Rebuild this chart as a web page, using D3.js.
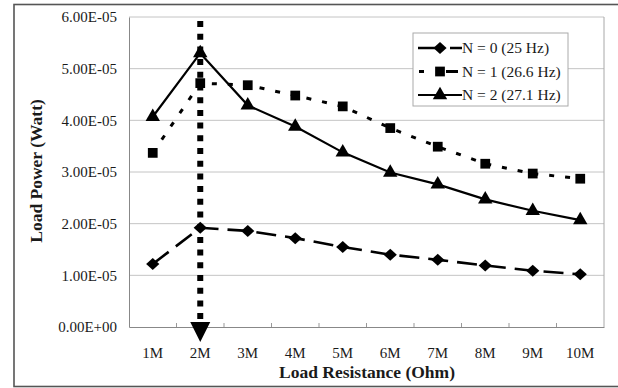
<!DOCTYPE html>
<html><head><meta charset="utf-8">
<script src="https://cdn.jsdelivr.net/npm/d3@7"></script>
<style>html,body{margin:0;padding:0;background:#fff;}svg{display:block;}</style>
</head><body>
<svg id="c" width="618" height="388"></svg>
<script>
const categories = ["1M","2M","3M","4M","5M","6M","7M","8M","9M","10M"];
const n0 = [1.22e-5,1.92e-5,1.86e-5,1.72e-5,1.55e-5,1.40e-5,1.30e-5,1.19e-5,1.09e-5,1.02e-5];
const n1 = [3.37e-5,4.72e-5,4.68e-5,4.48e-5,4.27e-5,3.85e-5,3.49e-5,3.16e-5,2.97e-5,2.87e-5];
const n2 = [4.07e-5,5.30e-5,4.29e-5,3.88e-5,3.38e-5,2.99e-5,2.76e-5,2.47e-5,2.25e-5,2.07e-5];
const seriesNames = ["N = 0 (25 Hz)","N = 1 (26.6 Hz)","N = 2 (27.1 Hz)"];
const yTicks = [0,1e-5,2e-5,3e-5,4e-5,5e-5,6e-5];
const markCategory = "2M";

const svg = d3.select("#c");
const font = "'Times New Roman','Liberation Serif',Times,serif";
const L=129, R=604, T=17, B=327;

// outer frame
svg.append("rect").attr("x",14).attr("y",4.5).attr("width",620).attr("height",382)
  .attr("fill","none").attr("stroke","#555").attr("stroke-width",1.6);

const x = d3.scaleBand().domain(categories).range([L,R]);
const y = d3.scaleLinear().domain([0,6e-5]).range([B,T]);
const cx = d => x(d)+x.bandwidth()/2;

// grid
svg.append("g").selectAll("line").data(yTicks.slice(1)).join("line")
  .attr("x1",L).attr("x2",R).attr("y1",d=>y(d)).attr("y2",d=>y(d))
  .attr("stroke","#c4c4c4").attr("stroke-width",1);
svg.append("line").attr("x1",R).attr("x2",R).attr("y1",T).attr("y2",B).attr("stroke","#a8a8a8");

// axes
const yAxis = d3.axisLeft(y).tickValues(yTicks).tickSize(0).tickPadding(12)
  .tickFormat(d => d===0 ? "0.00E+00" : (d/1e-5).toFixed(2)+"E-05");
const gy = svg.append("g").attr("transform",`translate(${L},0)`).call(yAxis);
gy.select(".domain").attr("stroke","#888");
gy.selectAll("text").attr("font-family",font).attr("font-size",15).attr("fill","#1a1a1a");

const xAxis = d3.axisBottom(x).tickSize(0).tickPadding(20);
const gx = svg.append("g").attr("transform",`translate(0,${B})`).call(xAxis);
gx.select(".domain").attr("stroke","#888");
gx.selectAll("text").attr("font-family",font).attr("font-size",15).attr("fill","#1a1a1a");
svg.append("g").selectAll("line").data(categories.slice(1)).join("line")
  .attr("x1",d=>x(d)).attr("x2",d=>x(d)).attr("y1",B).attr("y2",B-4).attr("stroke","#999");

// titles
svg.append("text").attr("x",367).attr("y",378).attr("text-anchor","middle")
  .attr("font-family",font).attr("font-weight","bold").attr("font-size",17.5).attr("fill","#1a1a1a")
  .text("Load Resistance (Ohm)");
svg.append("text").attr("transform","translate(42,171) rotate(-90)").attr("text-anchor","middle")
  .attr("font-family",font).attr("font-weight","bold").attr("font-size",17.5).attr("fill","#1a1a1a")
  .text("Load Power (Watt)");

// vertical marker line
const mx = cx(markCategory);
svg.append("line").attr("x1",mx).attr("x2",mx).attr("y1",y(6e-5)+4).attr("y2",B-4)
  .attr("stroke","#000").attr("stroke-width",6).attr("stroke-dasharray","6,6.7");
svg.append("path").attr("d",`M${mx-10},${B-5}L${mx+10},${B-5}L${mx},${B+15}Z`).attr("fill","#000");

// wide diamond symbol
const wideDiamond = { draw(ctx, size){ const r = Math.sqrt(size/2); ctx.moveTo(0,-r); ctx.lineTo(r*1.1,0); ctx.lineTo(0,r); ctx.lineTo(-r*1.1,0); ctx.closePath(); } };

const styles = [
  {data:n0, dash:"20,9", w:2.6, sym:wideDiamond, size:72},
  {data:n1, dash:"5,11", w:3, sym:d3.symbolSquare, size:95},
  {data:n2, dash:null, w:2.2, sym:d3.symbolTriangle, size:90}
];
const line = d3.line().x((d,i)=>cx(categories[i])).y(d=>y(d));
styles.forEach(s=>{
  const p = svg.append("path").attr("d",line(s.data)).attr("fill","none")
    .attr("stroke","#000").attr("stroke-width",s.w);
  if(s.dash) p.attr("stroke-dasharray",s.dash);
  svg.append("g").selectAll("path").data(s.data).join("path")
    .attr("transform",(d,i)=>`translate(${cx(categories[i])},${y(d)})`)
    .attr("d",d3.symbol().type(s.sym).size(s.size)()).attr("fill","#000");
});

// legend
const lg = svg.append("g");
lg.append("rect").attr("x",413).attr("y",33).attr("width",155).attr("height",73)
  .attr("fill","#fff").attr("stroke","#aaa").attr("stroke-width",1);
seriesNames.forEach((nm,i)=>{
  const yy = 48 + i*23.5;
  const s = styles[i];
  const ln = lg.append("line").attr("x1",418).attr("x2",462).attr("y1",yy).attr("y2",yy)
    .attr("stroke","#000").attr("stroke-width",s.w);
  if(i===0) ln.attr("stroke-dasharray","24,8,12");
  if(i===1) ln.attr("stroke-dasharray","5,12,5").attr("stroke-dashoffset",-1);
  lg.append("path").attr("transform",`translate(440,${yy})`)
    .attr("d",d3.symbol().type(s.sym).size(s.size)()).attr("fill","#000");
  lg.append("text").attr("x",462).attr("y",yy+5).attr("font-family",font).attr("font-size",15.5)
    .attr("fill","#1a1a1a").text(nm);
});
</script>
</body></html>
